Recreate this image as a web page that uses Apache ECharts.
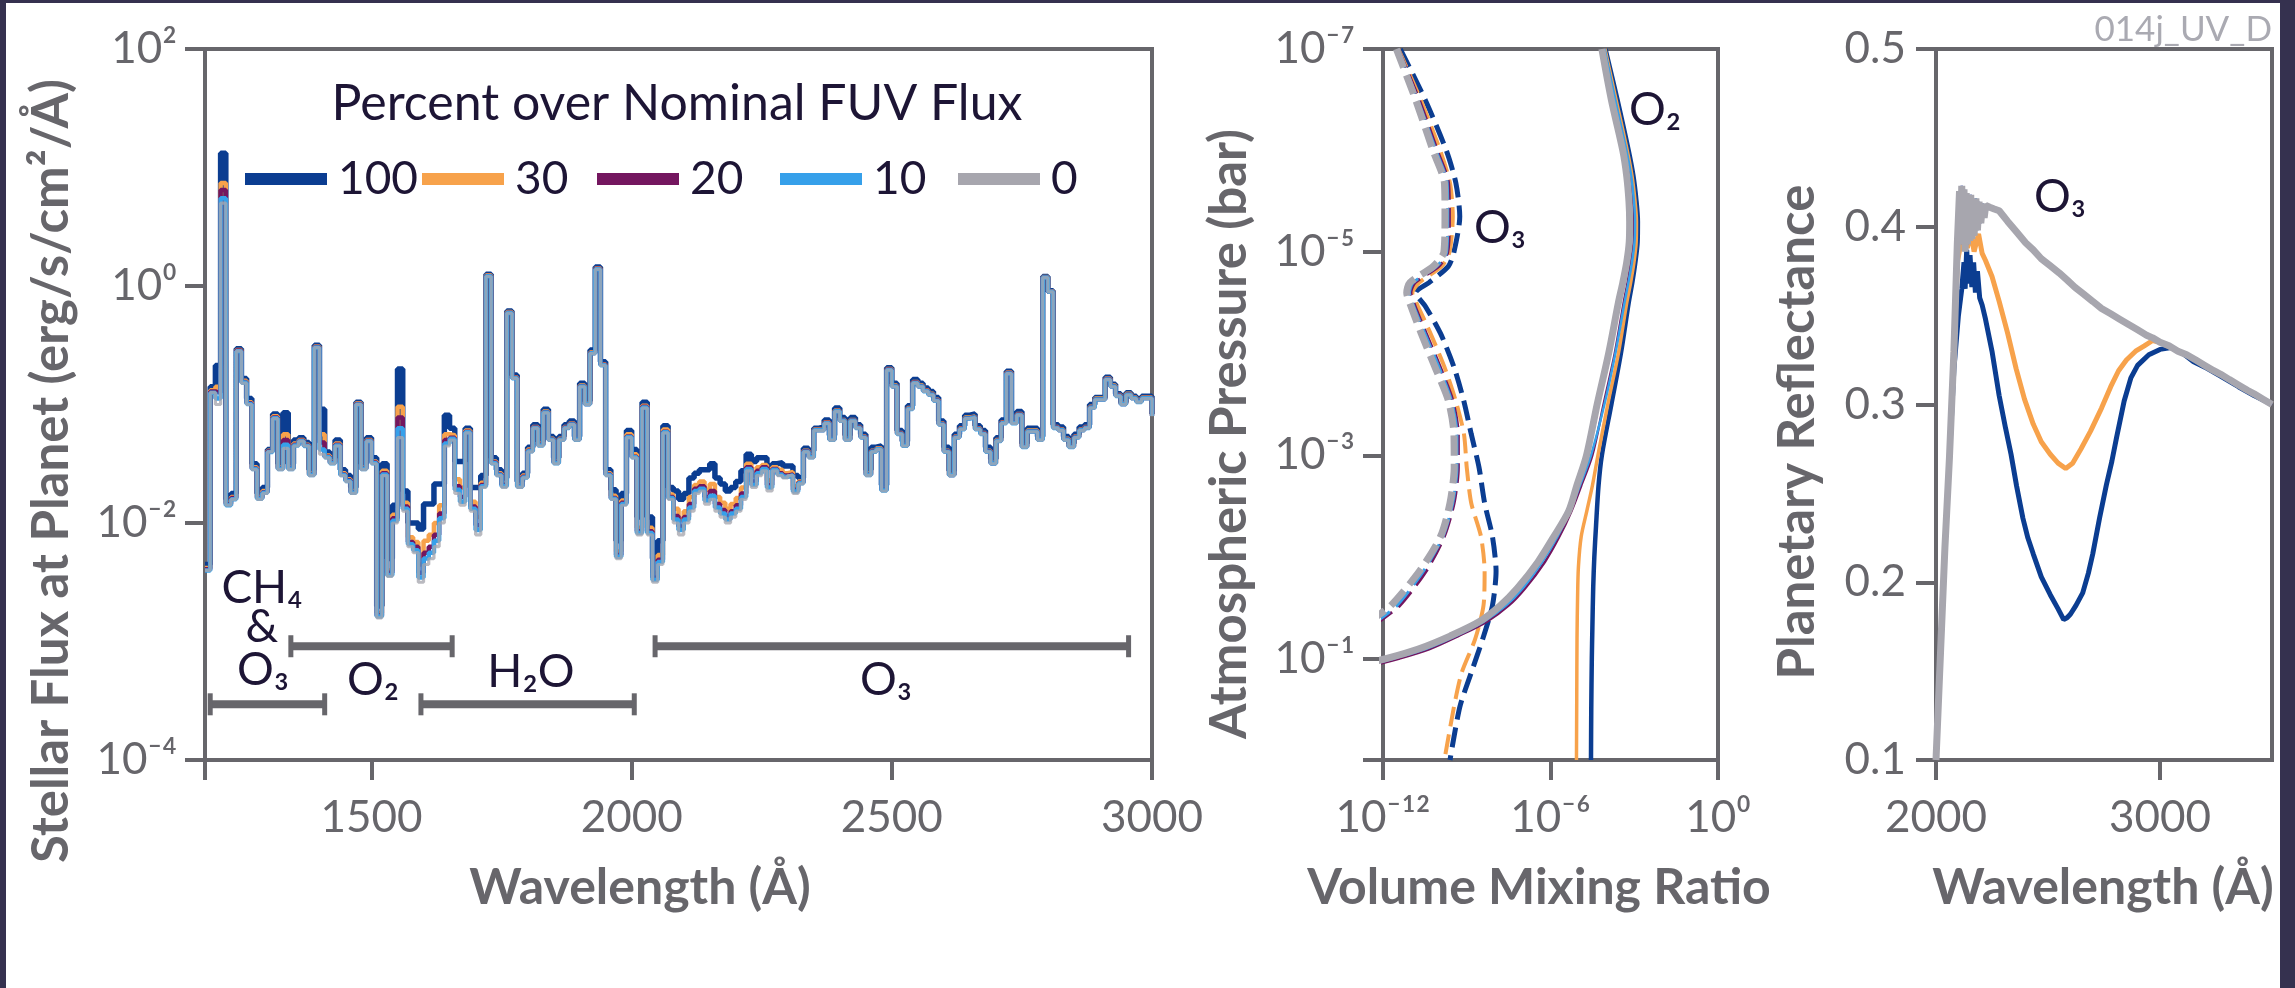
<!DOCTYPE html>
<html>
<head>
<meta charset="utf-8">
<script src="https://cdn.jsdelivr.net/npm/echarts@6.0.0/dist/echarts.min.js"></script>
<style>
  html, body { margin: 0; padding: 0; width: 2295px; height: 988px; overflow: hidden; background: #35314f; }
  #chart { position: absolute; left: 6px; top: 3px; width: 2274px; height: 985px; background: #ffffff; }
</style>
</head>
<body>
<div id="chart"></div>
<script>
// ---------- Stellar spectrum at the planet: log10 flux (erg/s/cm2/Å) in 10 Å bins from 1180 Å ----------
const WAVE_START = 1180;
const WAVE_STEP = 10;

const FLUX_100 = [
  -2.35, -0.85, -0.67, 1.12, -1.8, -1.75, -0.53, -0.78, -0.95, -1.5,
  -1.75, -1.7, -1.38, -1.08, -1.5, -1.07, -1.5, -1.3, -1.28, -1.32,
  -1.55, -0.5, -1.04, -1.4, -1.45, -1.3, -1.55, -1.6, -1.7, -0.98,
  -1.5, -1.28, -1.45, -2.7, -1.5, -2.3, -1.85, -0.7, -1.73, -2.0,
  -2.0, -2.05, -1.84, -1.84, -1.67, -1.67, -1.09, -1.2, -1.48, -1.48,
  -1.2, -1.7, -1.7, -1.6, 0.1, -1.45, -1.55, -1.62, -0.21, -0.75,
  -1.65, -1.58, -1.36, -1.17, -1.31, -1.04, -1.27, -1.45, -1.27, -1.17,
  -1.14, -1.27, -0.82, -0.97, -0.54, 0.16, -0.64, -1.55, -1.72, -2.15,
  -1.75, -1.22, -1.38, -1.95, -0.98, -1.95, -2.3, -2.15, -1.18, -1.7,
  -1.73, -1.8, -1.75, -1.62, -1.58, -1.55, -1.55, -1.5, -1.62, -1.67,
  -1.73, -1.7, -1.65, -1.56, -1.42, -1.48, -1.45, -1.45, -1.53, -1.5,
  -1.49, -1.52, -1.52, -1.6, -1.62, -1.37, -1.39, -1.2, -1.19, -1.13,
  -1.26, -1.03, -1.11, -1.26, -1.11, -1.17, -1.25, -1.55, -1.36, -1.35,
  -1.68, -0.69, -0.82, -1.22, -1.31, -1.01, -0.79, -0.82, -0.86, -0.89,
  -0.94, -1.14, -1.36, -1.56, -1.25, -1.18, -1.09, -1.08, -1.18, -1.22,
  -1.36, -1.46, -1.28, -1.13, -0.72, -1.13, -1.06, -1.33, -1.2, -1.2,
  -1.27, 0.08, -0.04, -1.17, -1.19, -1.27, -1.33, -1.25, -1.19, -1.17,
  -1.0, -0.94, -0.94, -0.77, -0.83, -0.91, -0.98, -0.9, -0.93, -0.96,
  -0.93, -0.93, -1.08
];
const FLUX_30 = [
  -2.38, -0.88, -0.85, 0.87, -1.83, -1.78, -0.54, -0.8, -0.98, -1.53,
  -1.78, -1.73, -1.39, -1.1, -1.53, -1.25, -1.53, -1.33, -1.3, -1.34,
  -1.58, -0.51, -1.25, -1.43, -1.48, -1.33, -1.58, -1.63, -1.73, -0.99,
  -1.53, -1.3, -1.48, -2.76, -1.56, -2.4, -1.93, -1.02, -1.83, -2.12,
  -2.16, -2.35, -2.15, -2.1, -2.0, -1.85, -1.25, -1.26, -1.63, -1.7,
  -1.22, -1.82, -1.95, -1.66, 0.09, -1.48, -1.58, -1.67, -0.22, -0.77,
  -1.68, -1.6, -1.38, -1.19, -1.33, -1.06, -1.29, -1.48, -1.29, -1.19,
  -1.16, -1.29, -0.84, -0.99, -0.56, 0.15, -0.66, -1.58, -1.77, -2.24,
  -1.81, -1.25, -1.42, -2.04, -1.01, -2.04, -2.42, -2.27, -1.21, -1.76,
  -1.88, -1.97, -1.9, -1.78, -1.68, -1.65, -1.72, -1.67, -1.78, -1.83,
  -1.88, -1.84, -1.79, -1.7, -1.5, -1.6, -1.53, -1.51, -1.64, -1.53,
  -1.55, -1.58, -1.57, -1.69, -1.65, -1.39, -1.43, -1.21, -1.21, -1.15,
  -1.29, -1.05, -1.13, -1.29, -1.13, -1.19, -1.27, -1.58, -1.39, -1.37,
  -1.71, -0.7, -0.84, -1.24, -1.34, -1.03, -0.81, -0.84, -0.88, -0.91,
  -0.96, -1.16, -1.39, -1.59, -1.27, -1.2, -1.11, -1.1, -1.2, -1.24,
  -1.39, -1.49, -1.3, -1.15, -0.73, -1.15, -1.08, -1.35, -1.22, -1.22,
  -1.29, 0.075, -0.045, -1.19, -1.21, -1.29, -1.35, -1.27, -1.21, -1.19,
  -1.02, -0.95, -0.95, -0.78, -0.84, -0.92, -0.99, -0.91, -0.94, -0.97,
  -0.94, -0.94, -1.09
];
const FLUX_20 = [
  -2.39, -0.89, -0.9, 0.81, -1.84, -1.79, -0.545, -0.81, -0.99, -1.54,
  -1.79, -1.74, -1.395, -1.11, -1.54, -1.3, -1.54, -1.34, -1.305, -1.345,
  -1.59, -0.515, -1.32, -1.44, -1.49, -1.34, -1.59, -1.64, -1.74, -0.995,
  -1.54, -1.305, -1.49, -2.78, -1.58, -2.42, -1.96, -1.11, -1.86, -2.16,
  -2.2, -2.42, -2.25, -2.2, -2.1, -1.92, -1.3, -1.28, -1.69, -1.78,
  -1.23, -1.86, -2.02, -1.68, 0.085, -1.49, -1.59, -1.68, -0.225, -0.775,
  -1.69, -1.61, -1.39, -1.195, -1.34, -1.065, -1.295, -1.49, -1.295, -1.195,
  -1.165, -1.295, -0.845, -0.995, -0.565, 0.145, -0.665, -1.59, -1.79, -2.27,
  -1.83, -1.27, -1.44, -2.07, -1.02, -2.07, -2.46, -2.31, -1.23, -1.78,
  -1.94, -2.03, -1.95, -1.84, -1.71, -1.69, -1.78, -1.73, -1.84, -1.89,
  -1.94, -1.9, -1.85, -1.75, -1.53, -1.65, -1.56, -1.53, -1.68, -1.545,
  -1.58, -1.6, -1.59, -1.72, -1.66, -1.395, -1.44, -1.215, -1.215, -1.155,
  -1.295, -1.055, -1.135, -1.295, -1.135, -1.195, -1.275, -1.59, -1.395, -1.375,
  -1.72, -0.705, -0.845, -1.245, -1.345, -1.035, -0.815, -0.845, -0.885, -0.915,
  -0.965, -1.165, -1.395, -1.595, -1.275, -1.205, -1.115, -1.105, -1.205, -1.245,
  -1.395, -1.495, -1.305, -1.155, -0.735, -1.155, -1.085, -1.355, -1.225, -1.225,
  -1.295, 0.072, -0.048, -1.195, -1.215, -1.295, -1.355, -1.275, -1.215, -1.195,
  -1.025, -0.955, -0.955, -0.785, -0.845, -0.925, -0.995, -0.915, -0.945, -0.975,
  -0.945, -0.945, -1.095
];
const FLUX_10 = [
  -2.4, -0.9, -0.95, 0.74, -1.85, -1.8, -0.55, -0.815, -0.995, -1.545,
  -1.795, -1.745, -1.4, -1.115, -1.545, -1.34, -1.545, -1.345, -1.31, -1.35,
  -1.595, -0.52, -1.38, -1.445, -1.495, -1.345, -1.595, -1.645, -1.745, -1.0,
  -1.545, -1.31, -1.495, -2.79, -1.59, -2.44, -1.98, -1.2, -1.88, -2.18,
  -2.23, -2.46, -2.3, -2.25, -2.15, -1.96, -1.33, -1.29, -1.72, -1.82,
  -1.235, -1.88, -2.06, -1.69, 0.082, -1.495, -1.595, -1.69, -0.228, -0.778,
  -1.695, -1.615, -1.395, -1.198, -1.345, -1.068, -1.298, -1.495, -1.298, -1.198,
  -1.168, -1.298, -0.848, -0.998, -0.568, 0.142, -0.668, -1.595, -1.795, -2.285,
  -1.84, -1.275, -1.445, -2.085, -1.025, -2.085, -2.48, -2.33, -1.235, -1.79,
  -1.97, -2.06, -1.97, -1.87, -1.73, -1.71, -1.81, -1.77, -1.87, -1.92,
  -1.97, -1.92, -1.88, -1.78, -1.545, -1.68, -1.58, -1.545, -1.7, -1.55,
  -1.59, -1.61, -1.595, -1.735, -1.665, -1.398, -1.445, -1.218, -1.218, -1.158,
  -1.298, -1.058, -1.138, -1.298, -1.138, -1.198, -1.278, -1.595, -1.398, -1.378,
  -1.725, -0.708, -0.848, -1.248, -1.348, -1.038, -0.818, -0.848, -0.888, -0.918,
  -0.968, -1.168, -1.398, -1.598, -1.278, -1.208, -1.118, -1.108, -1.208, -1.248,
  -1.398, -1.498, -1.308, -1.158, -0.738, -1.158, -1.088, -1.358, -1.228, -1.228,
  -1.298, 0.071, -0.049, -1.198, -1.218, -1.298, -1.358, -1.278, -1.218, -1.198,
  -1.028, -0.958, -0.958, -0.788, -0.848, -0.928, -0.998, -0.918, -0.948, -0.978,
  -0.948, -0.948, -1.098
];
const FLUX_0 = [
  -2.4, -0.9, -1.0, 0.70, -1.85, -1.8, -0.55, -0.82, -1.0, -1.55,
  -1.8, -1.75, -1.4, -1.12, -1.55, -1.37, -1.55, -1.35, -1.31, -1.35,
  -1.6, -0.52, -1.42, -1.45, -1.5, -1.35, -1.6, -1.65, -1.75, -1.0,
  -1.55, -1.31, -1.5, -2.8, -1.6, -2.45, -2.0, -1.28, -1.9, -2.2,
  -2.25, -2.5, -2.35, -2.3, -2.2, -2.0, -1.35, -1.3, -1.75, -1.85,
  -1.24, -1.9, -2.1, -1.7, 0.08, -1.5, -1.6, -1.7, -0.23, -0.78,
  -1.7, -1.62, -1.4, -1.2, -1.35, -1.07, -1.3, -1.5, -1.3, -1.2,
  -1.17, -1.3, -0.85, -1.0, -0.57, 0.14, -0.67, -1.6, -1.8, -2.3,
  -1.85, -1.28, -1.45, -2.1, -1.03, -2.1, -2.5, -2.35, -1.24, -1.8,
  -2.0, -2.1, -2.0, -1.9, -1.75, -1.73, -1.84, -1.8, -1.9, -1.95,
  -2.0, -1.95, -1.9, -1.8, -1.56, -1.7, -1.6, -1.56, -1.73, -1.56,
  -1.6, -1.62, -1.6, -1.75, -1.67, -1.4, -1.45, -1.22, -1.22, -1.16,
  -1.3, -1.06, -1.14, -1.3, -1.14, -1.2, -1.28, -1.6, -1.4, -1.38,
  -1.73, -0.71, -0.85, -1.25, -1.35, -1.04, -0.82, -0.85, -0.89, -0.92,
  -0.97, -1.17, -1.4, -1.6, -1.28, -1.21, -1.12, -1.11, -1.21, -1.25,
  -1.4, -1.5, -1.31, -1.16, -0.74, -1.16, -1.09, -1.36, -1.23, -1.23,
  -1.3, 0.07, -0.05, -1.2, -1.22, -1.3, -1.36, -1.28, -1.22, -1.2,
  -1.03, -0.96, -0.96, -0.79, -0.85, -0.93, -1.0, -0.92, -0.95, -0.98,
  -0.95, -0.95, -1.1
];

// Absorption ranges: [start Å, end Å, log10 flux level of the bar]
const BANDS = [
  [1190, 1410, -3.53],
  [1345, 1655, -3.04],
  [1595, 2005, -3.53],
  [2045, 2955, -3.04]
];

// ---------- Mixing-ratio profiles: [log10 VMR, log10 pressure (bar)] ----------
const O2_100 = [[-4.03,-7],[-3.6,-6.5],[-3.2,-6],[-3.03,-5.75],[-2.92,-5.5],[-2.87,-5.3],[-2.88,-5.1],[-2.96,-4.9],[-3.07,-4.7],[-3.2,-4.5],[-3.48,-4],[-3.82,-3.5],[-4.16,-3],[-4.28,-2.7],[-4.37,-2.3],[-4.43,-2],[-4.47,-1.7],[-4.5,-1.3],[-4.52,-1],[-4.54,-0.5],[-4.55,0]];
const O2_30 = [[-4.05,-7],[-3.65,-6.5],[-3.25,-6],[-3.08,-5.75],[-2.97,-5.5],[-2.92,-5.3],[-2.93,-5.1],[-3.01,-4.9],[-3.13,-4.7],[-3.27,-4.5],[-3.57,-4],[-3.95,-3.5],[-4.3,-3],[-4.5,-2.7],[-4.7,-2.45],[-4.9,-2.2],[-5.0,-1.9],[-5.03,-1.6],[-5.05,-1.2],[-5.06,-0.6],[-5.07,0]];
const O2_20 = [[-4.08,-7],[-3.7,-6.5],[-3.3,-6],[-3.14,-5.75],[-3.04,-5.5],[-3.0,-5.3],[-3.02,-5.1],[-3.12,-4.9],[-3.24,-4.7],[-3.38,-4.5],[-3.7,-4],[-4.1,-3.5],[-4.5,-3],[-4.9,-2.7],[-5.25,-2.45],[-5.68,-2.2],[-6.2,-1.95],[-6.91,-1.69],[-7.5,-1.52],[-8.29,-1.36],[-9.3,-1.22],[-10.35,-1.09],[-11.4,-1.0],[-12.4,-0.93]];
const O2_10 = [[-4.06,-7],[-3.68,-6.5],[-3.28,-6],[-3.11,-5.75],[-3.01,-5.5],[-2.97,-5.3],[-2.99,-5.1],[-3.08,-4.9],[-3.21,-4.7],[-3.35,-4.5],[-3.68,-4],[-4.07,-3.5],[-4.55,-3],[-4.95,-2.7],[-5.3,-2.45],[-5.75,-2.2],[-6.3,-1.95],[-7.0,-1.69],[-7.6,-1.52],[-8.4,-1.36],[-9.4,-1.22],[-10.5,-1.09],[-11.6,-1.0],[-12.4,-0.94]];
const O2_0 = [[-4.16,-7],[-3.82,-6.5],[-3.41,-6],[-3.27,-5.75],[-3.19,-5.5],[-3.165,-5.3],[-3.18,-5.1],[-3.27,-4.9],[-3.41,-4.7],[-3.57,-4.5],[-3.92,-4],[-4.33,-3.5],[-4.71,-3],[-5.06,-2.7],[-5.35,-2.45],[-5.88,-2.2],[-6.45,-1.95],[-7.19,-1.69],[-7.8,-1.52],[-8.56,-1.36],[-9.6,-1.22],[-10.76,-1.09],[-11.86,-1.0],[-12.5,-0.96]];

const O3_100 = [[-11.38,-7],[-10.49,-6.5],[-9.73,-6],[-9.39,-5.68],[-9.25,-5.35],[-9.46,-5.0],[-9.66,-4.86],[-10.35,-4.7],[-10.83,-4.6],[-10.49,-4.47],[-9.94,-4.2],[-9.46,-3.87],[-9.11,-3.54],[-8.84,-3.21],[-8.56,-2.88],[-8.36,-2.53],[-8.08,-2.2],[-7.95,-1.86],[-8.08,-1.52],[-8.43,-1.19],[-8.84,-0.86],[-9.25,-0.52],[-9.6,0]];
const O3_30 = [[-11.45,-7],[-10.65,-6.5],[-9.95,-6],[-9.6,-5.68],[-9.5,-5.35],[-9.62,-5.0],[-9.9,-4.86],[-10.7,-4.7],[-10.95,-4.6],[-10.75,-4.47],[-10.3,-4.2],[-9.8,-3.87],[-9.4,-3.54],[-9.1,-3.21],[-9.0,-2.88],[-8.84,-2.53],[-8.49,-2.2],[-8.36,-1.86],[-8.4,-1.52],[-8.7,-1.19],[-9.18,-0.86],[-9.46,-0.52],[-9.8,0]];
const O3_20 = [[-11.45,-7],[-10.7,-6.5],[-10.05,-6],[-9.65,-5.68],[-9.62,-5.35],[-9.68,-5.0],[-10.0,-4.86],[-10.85,-4.7],[-11.0,-4.6],[-10.85,-4.47],[-10.45,-4.2],[-9.95,-3.87],[-9.5,-3.54],[-9.3,-3.21],[-9.3,-2.88],[-9.45,-2.53],[-9.8,-2.2],[-10.45,-1.86],[-11.4,-1.52],[-12.2,-1.35]];
const O3_10 = [[-11.48,-7],[-10.75,-6.5],[-10.1,-6],[-9.7,-5.68],[-9.68,-5.35],[-9.72,-5.0],[-10.08,-4.86],[-10.92,-4.7],[-11.05,-4.6],[-10.9,-4.47],[-10.5,-4.2],[-10.0,-3.87],[-9.55,-3.54],[-9.35,-3.21],[-9.35,-2.88],[-9.5,-2.53],[-9.85,-2.2],[-10.55,-1.86],[-11.5,-1.52],[-12.2,-1.37]];
const O3_0 = [[-11.52,-7],[-10.83,-6.5],[-10.21,-6],[-9.8,-5.68],[-9.78,-5.35],[-9.82,-5.0],[-10.2,-4.86],[-11.04,-4.7],[-11.15,-4.6],[-11.0,-4.47],[-10.63,-4.2],[-10.14,-3.87],[-9.66,-3.54],[-9.46,-3.21],[-9.45,-2.88],[-9.6,-2.53],[-9.94,-2.2],[-10.69,-1.86],[-11.72,-1.52],[-12.3,-1.4]];

// ---------- Planetary reflectance: [wavelength Å, reflectance] ----------
const REFL_100 = [[2000,0.10],[2020,0.16],[2040,0.22],[2060,0.27],[2080,0.32],[2100,0.35],[2115,0.365],[2125,0.38],[2130,0.365],[2137,0.387],[2145,0.368],[2152,0.384],[2160,0.366],[2168,0.38],[2176,0.363],[2185,0.375],[2195,0.36],[2206,0.356],[2221,0.348],[2250,0.33],[2282,0.305],[2310,0.287],[2335,0.272],[2360,0.254],[2388,0.236],[2410,0.225],[2434,0.216],[2470,0.203],[2510,0.193],[2545,0.185],[2570,0.179],[2585,0.18],[2600,0.182],[2625,0.187],[2655,0.194],[2680,0.205],[2700,0.216],[2730,0.236],[2761,0.255],[2785,0.268],[2807,0.282],[2840,0.302],[2870,0.315],[2900,0.322],[2950,0.328],[3000,0.331],[3050,0.332],[3100,0.329],[3150,0.324],[3200,0.321],[3270,0.316],[3350,0.31],[3420,0.305],[3500,0.3]];
const REFL_30 = [[2000,0.10],[2020,0.16],[2040,0.22],[2060,0.27],[2080,0.33],[2095,0.38],[2110,0.39],[2125,0.398],[2140,0.388],[2155,0.397],[2170,0.386],[2190,0.396],[2206,0.385],[2221,0.381],[2250,0.372],[2282,0.358],[2320,0.34],[2358,0.32],[2395,0.303],[2434,0.289],[2470,0.279],[2510,0.272],[2545,0.267],[2579,0.264],[2610,0.267],[2647,0.275],[2690,0.285],[2739,0.298],[2780,0.31],[2815,0.319],[2850,0.325],[2891,0.33],[2930,0.333],[2967,0.336],[3000,0.335],[3050,0.332],[3119,0.328],[3200,0.322],[3271,0.317],[3350,0.311],[3420,0.306],[3500,0.3]];
// the 0, 10 and 20 percent cases give the same reflectance
const REFL_LOW = [[2000,0.10],[2020,0.16],[2040,0.22],[2060,0.27],[2080,0.33],[2095,0.39],[2105,0.42],[2110,0.395],[2115,0.423],[2120,0.39],[2125,0.421],[2130,0.386],[2135,0.419],[2140,0.39],[2145,0.417],[2150,0.392],[2155,0.418],[2160,0.393],[2165,0.415],[2170,0.395],[2178,0.416],[2185,0.398],[2192,0.414],[2200,0.402],[2208,0.413],[2215,0.405],[2222,0.412],[2240,0.411],[2260,0.41],[2282,0.409],[2320,0.403],[2360,0.397],[2400,0.391],[2434,0.387],[2470,0.382],[2510,0.378],[2550,0.374],[2586,0.37],[2620,0.366],[2660,0.362],[2700,0.358],[2739,0.354],[2780,0.351],[2820,0.348],[2860,0.345],[2900,0.342],[2940,0.339],[2967,0.3375],[3000,0.335],[3040,0.333],[3080,0.33],[3119,0.328],[3160,0.325],[3200,0.322],[3240,0.319],[3271,0.317],[3310,0.314],[3350,0.311],[3390,0.308],[3420,0.306],[3460,0.303],[3500,0.3]];

// ---------- Axis ticks ----------
const FLUX_TICKS = [-4, -2, 0, 2];
const WAVE_TICKS = [1500, 2000, 2500, 3000];
const VMR_TICKS = [-12, -6, 0];
const PRESS_TICKS = [-7, -5, -3, -1];
const REFL_TICKS = [0.1, 0.2, 0.3, 0.4, 0.5];
const REFL_WAVE_TICKS = [2000, 3000];

const CASES = ['100', '30', '20', '10', '0'];

// ---------- Styling ----------
const FONT = 'Lato, "DejaVu Sans", sans-serif';
const AXIS = '#67666b';
const INK = '#1d1535';
const COLOR = { '100': '#0b3d91', '30': '#f7a24b', '20': '#74165f', '10': '#36a0ea', '0': '#a7a6ae' };

const SUP = { '-': '\u207B', '0': '\u2070', '1': '\u00B9', '2': '\u00B2', '3': '\u00B3', '4': '\u2074', '5': '\u2075', '6': '\u2076', '7': '\u2077', '8': '\u2078', '9': '\u2079' };
const pow10 = v => '10' + String(Math.round(v)).split('').map(c => SUP[c]).join('');

const tickLabel = { fontFamily: FONT, fontSize: 44, color: AXIS };

function axisBase(gridIndex, extra) {
  return Object.assign({
    gridIndex, type: 'value',
    axisLine: { show: true, onZero: false, lineStyle: { color: AXIS, width: 4 } },
    axisTick: { show: true, length: 20, lineStyle: { color: AXIS, width: 4 } },
    splitLine: { show: false },
  }, extra);
}

const grids = [
  { left: 199, top: 46, width: 947, height: 711 },
  { left: 1377, top: 46, width: 335, height: 711 },
  { left: 1930, top: 46, width: 336, height: 711 }
].map(g => Object.assign(g, { show: true, borderColor: AXIS, borderWidth: 4, backgroundColor: 'transparent' }));

const xAxes = [
  axisBase(0, { min: 1180, max: 3000,
    axisTick: { show: true, length: 20, lineStyle: { color: AXIS, width: 4 }, customValues: [1180].concat(WAVE_TICKS) },
    axisLabel: Object.assign({ customValues: WAVE_TICKS, margin: 36, formatter: v => String(v) }, tickLabel) }),
  axisBase(1, { min: -12, max: 0,
    axisTick: { show: true, length: 20, lineStyle: { color: AXIS, width: 4 }, customValues: VMR_TICKS },
    axisLabel: Object.assign({ customValues: VMR_TICKS, margin: 36, formatter: pow10 }, tickLabel) }),
  axisBase(2, { min: 2000, max: 3500,
    axisTick: { show: true, length: 20, lineStyle: { color: AXIS, width: 4 }, customValues: REFL_WAVE_TICKS },
    axisLabel: Object.assign({ customValues: REFL_WAVE_TICKS, margin: 36, formatter: v => String(v) }, tickLabel) })
];

const yAxes = [
  axisBase(0, { min: -4, max: 2,
    axisTick: { show: true, length: 20, lineStyle: { color: AXIS, width: 4 }, customValues: FLUX_TICKS },
    axisLabel: Object.assign({ customValues: FLUX_TICKS, margin: 28, formatter: pow10 }, tickLabel) }),
  axisBase(1, { min: -7, max: 0, inverse: true,
    axisTick: { show: true, length: 20, lineStyle: { color: AXIS, width: 4 }, customValues: PRESS_TICKS.concat([0]) },
    axisLabel: Object.assign({ customValues: PRESS_TICKS, margin: 28, formatter: pow10 }, tickLabel) }),
  axisBase(2, { min: 0.1, max: 0.5,
    axisTick: { show: true, length: 20, lineStyle: { color: AXIS, width: 4 }, customValues: REFL_TICKS },
    axisLabel: Object.assign({ customValues: REFL_TICKS, margin: 30, formatter: v => v.toFixed(1) }, tickLabel) })
];

// ---------- Series ----------
const series = [];

const FLUX = { '100': FLUX_100, '30': FLUX_30, '20': FLUX_20, '10': FLUX_10, '0': FLUX_0 };
const FLUX_WIDTH = { '100': 5.5, '30': 4.5, '20': 4.5, '10': 4.5, '0': 3.2 };
CASES.forEach((name, k) => {
  series.push({
    name, type: 'line', xAxisIndex: 0, yAxisIndex: 0, step: 'end',
    symbol: 'none', showSymbol: false, silent: true, z: 2 + k,
    data: FLUX[name].map((v, i) => [WAVE_START + i * WAVE_STEP, v]),
    itemStyle: { color: COLOR[name] },
    lineStyle: { color: COLOR[name], width: FLUX_WIDTH[name], opacity: name === '0' ? 0.78 : 1 }
  });
});

// absorber ranges drawn as bars with end caps
series.push({
  type: 'custom', xAxisIndex: 0, yAxisIndex: 0, silent: true, z: 8,
  encode: { x: [0, 1], y: 2 },
  data: BANDS,
  renderItem: (params, api) => {
    const a = api.coord([api.value(0), api.value(2)]);
    const b = api.coord([api.value(1), api.value(2)]);
    const h = 11;
    const st = { stroke: AXIS, lineWidth: 8, lineCap: 'butt' };
    const cap = { stroke: AXIS, lineWidth: 5 };
    return { type: 'group', children: [
      { type: 'line', shape: { x1: a[0], y1: a[1], x2: b[0], y2: b[1] }, style: st },
      { type: 'line', shape: { x1: a[0], y1: a[1] - h, x2: a[0], y2: a[1] + h }, style: cap },
      { type: 'line', shape: { x1: b[0], y1: b[1] - h, x2: b[0], y2: b[1] + h }, style: cap }
    ]};
  }
});

const O2 = { '100': O2_100, '30': O2_30, '20': O2_20, '10': O2_10, '0': O2_0 };
const O3 = { '100': O3_100, '30': O3_30, '20': O3_20, '10': O3_10, '0': O3_0 };
const O2_WIDTH = { '100': 4.5, '30': 3.5, '20': 2.5, '10': 2.5, '0': 7 };
const O3_WIDTH = { '100': 5, '30': 4, '20': 3, '10': 3, '0': 7 };
CASES.forEach((name, k) => {
  series.push({
    name, type: 'line', xAxisIndex: 1, yAxisIndex: 1, symbol: 'none', showSymbol: false,
    silent: true, smooth: 0.3, z: 2 + k, data: O2[name],
    itemStyle: { color: COLOR[name] },
    lineStyle: { color: COLOR[name], width: O2_WIDTH[name] }
  });
  series.push({
    name, type: 'line', xAxisIndex: 1, yAxisIndex: 1, symbol: 'none', showSymbol: false,
    silent: true, smooth: 0.25, z: 2 + k, data: O3[name],
    itemStyle: { color: COLOR[name] },
    lineStyle: { color: COLOR[name], width: O3_WIDTH[name], type: [20, 8] }
  });
});

const REFL = { '100': REFL_100, '30': REFL_30, '20': REFL_LOW, '10': REFL_LOW, '0': REFL_LOW };
const REFL_WIDTH = { '100': 5, '30': 5, '20': 2.5, '10': 2.5, '0': 7 };
CASES.forEach((name, k) => {
  series.push({
    name, type: 'line', xAxisIndex: 2, yAxisIndex: 2, symbol: 'none', showSymbol: false,
    silent: true, z: 2 + k, data: REFL[name],
    itemStyle: { color: COLOR[name] },
    lineStyle: { color: COLOR[name], width: REFL_WIDTH[name] }
  });
});

// ---------- Legend: one entry per case, laid out in a row ----------
const LEGEND_LEFT = [239, 416, 591, 774, 952];
const legends = CASES.map((name, i) => ({
  data: [name], left: LEGEND_LEFT[i], top: 153, padding: 0,
  icon: 'rect', itemWidth: 82, itemHeight: 12, selectedMode: false,
  textStyle: { fontFamily: FONT, fontSize: 46, color: INK, padding: [0, 0, 0, 6] }
}));

// ---------- Text ----------
function txt(x, y, text, size, opt) {
  opt = opt || {};
  const font = (opt.weight || 'normal') + ' ' + size + 'px ' + FONT;
  return {
    type: 'text', x, y, rotation: opt.rotation || 0, silent: true, z: 20,
    style: { text, font, fill: opt.fill || INK,
      textAlign: opt.align || 'center', textVerticalAlign: 'middle',
      align: opt.align || 'center', verticalAlign: 'middle' }
  };
}
const R90 = Math.PI / 2;
const graphic = [
  txt(671, 101, 'Percent over Nominal FUV Flux', 50),
  txt(46, 468, 'Stellar Flux at Planet (erg/s/cm\u00B2/\u00C5)', 51, { weight: 'bold', fill: AXIS, rotation: R90 }),
  txt(634, 885, 'Wavelength (\u00C5)', 50, { weight: 'bold', fill: AXIS }),
  txt(1224, 431, 'Atmospheric Pressure (bar)', 51, { weight: 'bold', fill: AXIS, rotation: R90 }),
  txt(1533, 885, 'Volume Mixing Ratio', 50, { weight: 'bold', fill: AXIS }),
  txt(1792, 429, 'Planetary Reflectance', 51, { weight: 'bold', fill: AXIS, rotation: R90 }),
  txt(2097, 885, 'Wavelength (\u00C5)', 50, { weight: 'bold', fill: AXIS }),
  txt(256, 585, 'CH\u2084', 46),
  txt(256, 624, '&', 46),
  txt(257, 667, 'O\u2083', 46),
  txt(367, 677, 'O\u2082', 46),
  txt(525, 669, 'H\u2082O', 46),
  txt(880, 677, 'O\u2083', 46),
  txt(1649, 107, 'O\u2082', 46),
  txt(1494, 225, 'O\u2083', 46),
  txt(2054, 194, 'O\u2083', 46),
  txt(2266, 27, '014j_UV_D', 35, { fill: '#aaaab2', align: 'right' })
];

const chart = echarts.init(document.getElementById('chart'), null, { renderer: 'canvas' });
chart.setOption({
  animation: false,
  backgroundColor: '#ffffff',
  grid: grids,
  xAxis: xAxes,
  yAxis: yAxes,
  legend: legends,
  series,
  graphic
});
</script>
</body>
</html>
